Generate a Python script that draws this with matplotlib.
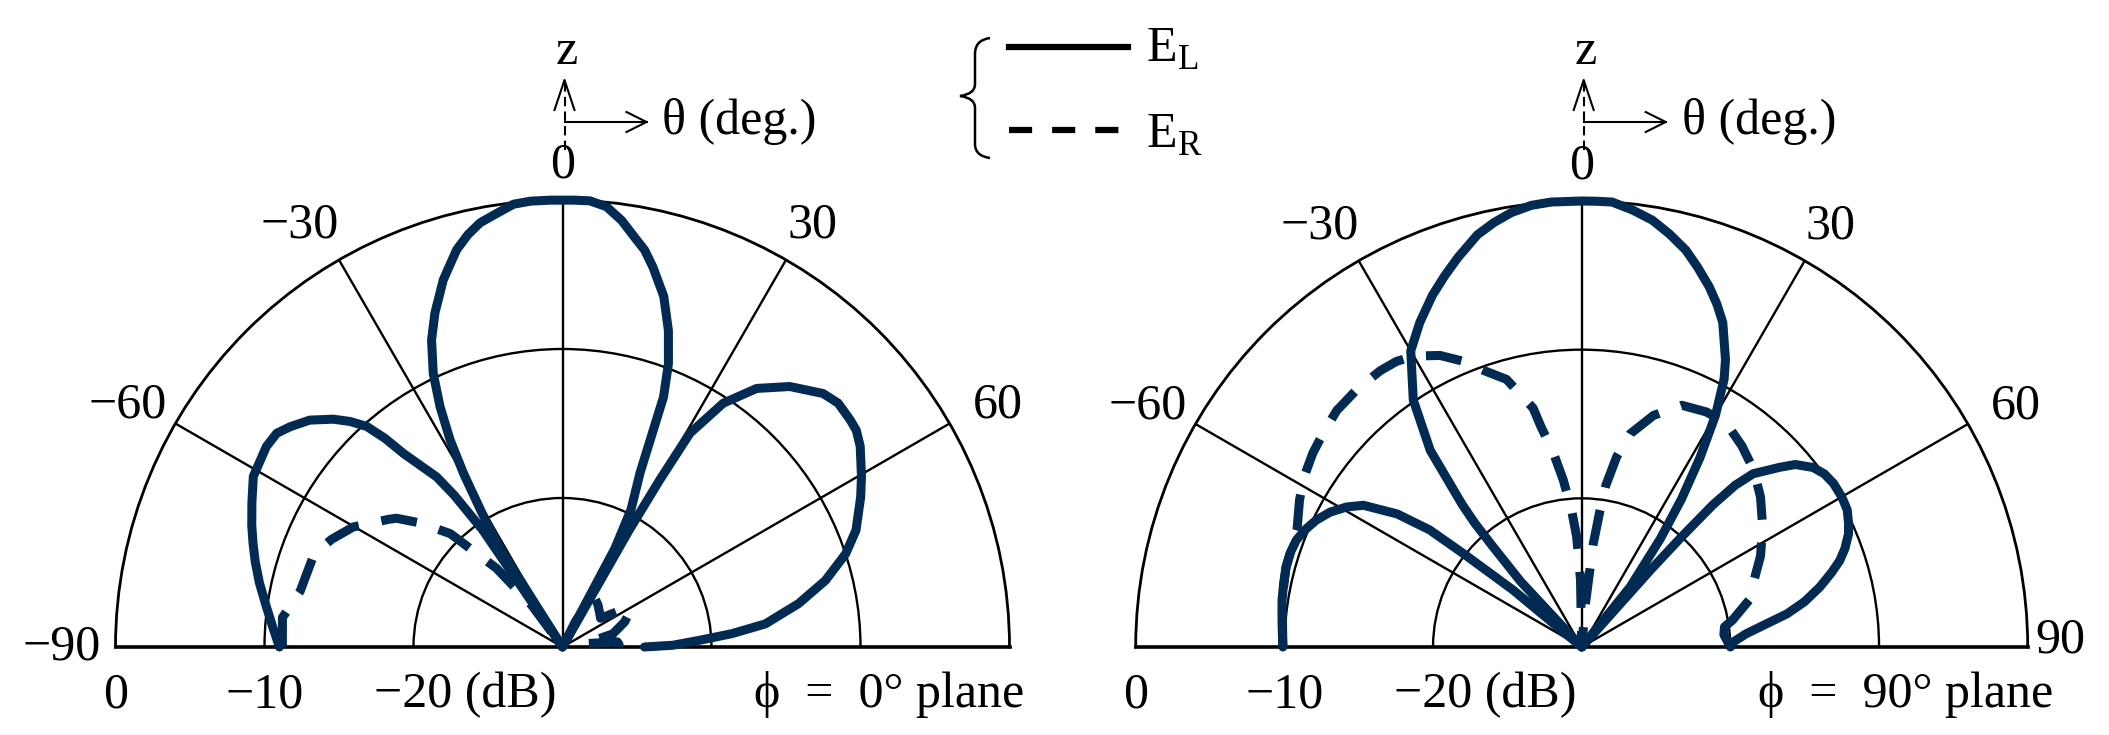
import numpy as np
import matplotlib
matplotlib.use('Agg')
from matplotlib import pyplot as plt
from matplotlib.lines import Line2D
from matplotlib.patches import PathPatch
from matplotlib.path import Path

plt.rcParams['font.family'] = ['Liberation Serif', 'DejaVu Serif']
plt.rcParams['mathtext.fontset'] = 'custom'
plt.rcParams['mathtext.rm'] = 'Liberation Serif'

W, H = 2109, 735
NAVY = '#022a52'
FS = 36
CY = 647  # baseline row (pixels from top)

# ---- theta (deg) and level (dB) ----
# phi = 0 plane, E_L (solid)
theta_L0 = [-90, -86, -82, -78, -74.5, -71.5, -68.6, -65, -61.1, -55.9,
            -53.2, -51, -48.1, -45.2, -43.3, -41.6, -40.4, -39.4, -36.5, -35.5,
            -34.3, -33.3, -32.3, -31, -29.7, -28.5, -27, -25.3, -23.1, -20.9,
            -18, -16.3, -14.9, -12.9, -11, -8.6, -6.3, -4.1, -1.6, 1.4,
            3.5, 5.7, 7.9, 9.8, 11.7, 13.4, 16.1, 18.5, 20.5, 22,
            22.7, 24, 26.5, 28, 29, 29.7, 30.2, 30.8, 33.4, 36.9,
            41.1, 45.8, 48.5, 51.7, 53.6, 56, 60.3, 63.3, 68.3, 71.8,
            75.8, 79.6, 83.5, 85.5, 87.2, 89.1, 90]
db_L0 = [-11, -10.5, -9.9, -9.2, -8.6, -8.1, -7.6, -7.0, -6.3, -6.0,
         -6.05, -6.5, -7.2, -8.3, -9.2, -10.2, -11.6, -13.2, -15.8, -17.5,
         -20.5, -30, -22.1, -19.5, -16.6, -14.2, -11.9, -9.7, -7.6, -6.0,
         -4.1, -3.2, -2.4, -1.6, -1.0, -0.56, -0.1, 0, 0, 0,
         0, -0.3, -1.1, -2.0, -2.8, -3.8, -5.5, -7.6, -9.7, -11.9,
         -14.2, -17.2, -19.7, -22.5, -30, -21, -17, -13.3, -10.4, -8.3,
         -6.8, -5.6, -5.3, -5.4, -5.5, -5.9, -6.9, -7.6, -8.8, -10,
         -11.8, -13.9, -16.3, -18.6, -20.8, -22.6, -24.5]

# phi = 0 plane, E_R (dashed)
theta_R0 = [-90, -84, -78, -69.5, -65, -60.2, -53.8, -52.2, -49, -44.7,
            -40, -36.4, -34, -20, 0, 20, 27, 31.8, 40, 47,
            53, 58, 61.5, 68, 75.3, 79, 81, 84.7, 87.5, 90]
db_R0 = [-11.2, -11.1, -12, -12.2, -12.9, -13.8, -15.5, -15.9, -17.3, -19.3,
         -23.1, -26.5, -30, -30, -30, -30, -28, -26, -26.3, -26.6,
         -26.8, -25.3, -24.8, -25.5, -26.5, -28, -28.6, -26.3, -26.2, -26.2]

# phi = 90 plane, E_L (solid)
theta_L90 = [-90, -86, -81.2, -78, -74.8, -72, -69.5, -67, -64.5, -61.8,
             -59.2, -57, -54.2, -52.4, -51.7, -50.3, -46.5, -43, -41.5, -40.8,
             -40, -37.6, -34.3, -30, -26.5, -23, -20.3, -17.6, -14.2, -11.7,
             -9.2, -6.5, -3.9, 0, 1.9, 3.9, 6.6, 9.4, 12, 14.7,
             17, 19.5, 21.5, 23.5, 26.6, 28, 30, 32, 34, 36,
             38.9, 40.5, 41.8, 42.2, 42.7, 43.5, 44.7, 47.8, 49.5, 52.2,
             54.5, 57, 60, 62.7, 65, 67, 69.5, 71.5, 73.5, 75.9,
             78.5, 80.8, 85.4, 88.1, 90, 85, 82, 79.9]
db_L90 = [-9.9, -9.8, -9.6, -9.5, -9.4, -9.4, -9.5, -9.8, -10.2, -10.8,
          -11.6, -12.5, -14.7, -17.1, -19.9, -24, -30, -24, -21, -19,
          -17.5, -13.3, -9.9, -7.0, -5.6, -4.3, -3.4, -2.5, -1.4, -0.85,
          -0.4, -0.1, 0, 0, 0, 0, -0.4, -0.9, -1.6, -2.4,
          -3.3, -4.3, -5.2, -6.2, -8.4, -9.6, -12, -15, -18, -21,
          -24.8, -30, -23, -20, -17, -15, -13.6, -12, -11.1, -10.3,
          -9.95, -9.8, -9.8, -9.9, -10.2, -10.5, -11.1, -11.7, -12.5, -13.5,
          -14.7, -16, -18.9, -19.8, -20.0, -20.4, -20.3, -19.7]

# phi = 90 plane, E_R (dashed)
theta_R90 = [-90, -81, -75, -67.7, -62.5, -58.5, -54.2, -50, -46, -41,
             -36.1, -33, -30, -25.9, -22.5, -19.4, -15.7, -11.5, -10.5, -8.3,
             -6.3, -4.2, -2.6, -1, 2, 5, 6.4, 7.6, 8.5, 10.4,
             12.8, 17.2, 22.5, 28, 33, 38.5, 44.2, 50, 56.5, 63,
             69.7, 74, 79.9]
db_R90 = [-9.9, -9.6, -9.4, -9.3, -8.6, -8.1, -7.7, -7.4, -7.1, -7.0,
          -7.0, -7.1, -7.4, -8.2, -9.2, -10.3, -11.3, -13.6, -14.9, -16.8,
          -18.7, -20.8, -22.6, -25.5, -30, -27, -23, -20.8, -19, -17,
          -15.3, -13.7, -12.4, -12.1, -12.1, -12.7, -13.4, -14.3, -15.4, -16.5,
          -17.7, -18.2, -19.7]

grid_theta = [-60, -30, 0, 30, 60]
grid_db = [-20, -10]
bottom_labels = ['0', '\u221210']
bottom_db = [0, -10]
plane_labels = ['\u03d5\u2002=\u20020\u00b0 plane', '\u03d5\u2002=\u200290\u00b0 plane']

# angle labels: text, theta (deg), radius in dB beyond the rim
left_angle_labels = [('\u221290', -90, 3.6), ('\u221260', -61, 3.4),
                     ('\u221230', -31.9, 3.36), ('0', 0, 2.35),
                     ('30', 30.6, 2.9), ('60', 61, 3.4)]
right_angle_labels = [('\u221260', -61, 3.4), ('\u221230', -31.9, 3.36),
                      ('0', 0, 2.35), ('30', 30.6, 2.9), ('60', 61, 3.4),
                      ('90', 89.2, 2.2)]

fig = plt.figure(figsize=(W / 100, H / 100), dpi=100)
fig.patch.set_facecolor('white')


def fx(x, y):
    return x / W, 1 - y / H


def add_line(xs, ys, **kw):
    pts = [fx(x, y) for x, y in zip(xs, ys)]
    fig.add_artist(Line2D([p[0] for p in pts], [p[1] for p in pts],
                          transform=fig.transFigure, **kw))


def make_panel(cx, R, th_l, db_l, th_r, db_r, angle_labels, plane, plane_dx):
    y0 = (H - CY) - 0.5 * R
    ax = fig.add_axes([(cx - R) / W, y0 / H, 2 * R / W, 2 * R / H],
                      projection='polar')
    ax.set_theta_zero_location('N')
    ax.set_theta_direction(-1)
    ax.set_thetamin(-90)
    ax.set_thetamax(90)

    ax.plot(np.deg2rad(th_l), db_l, color=NAVY, lw=6.5,
            solid_capstyle='round', solid_joinstyle='round', clip_on=False,
            zorder=4)
    ax.plot(np.deg2rad(th_r), db_r, color=NAVY, lw=6.5, ls=(0, (4.0, 2.55)),
            dash_capstyle='butt', dash_joinstyle='round', clip_on=False,
            zorder=4)

    ax.set_rlim(-30, 0)
    ax.set_thetagrids(grid_theta, labels=[''] * len(grid_theta))
    ax.set_rgrids(grid_db, labels=[''] * len(grid_db))
    ax.grid(True, color='black', lw=1.7)
    ax.tick_params(length=0)
    ax.spines['polar'].set_linewidth(2.0)
    ax.spines['start'].set_linewidth(2.6)
    ax.spines['end'].set_linewidth(2.6)
    ax.spines['inner'].set_visible(False)

    for s, t, r in angle_labels:
        ax.text(np.deg2rad(t), r, s, ha='center', va='center',
                fontsize=FS, clip_on=False)

    for s, r in zip(bottom_labels, bottom_db):
        ax.annotate(s, xy=(np.deg2rad(-90), r), xytext=(0, -60),
                    textcoords='offset pixels', ha='center', va='baseline',
                    fontsize=FS, annotation_clip=False)
    ax.annotate('\u221220 (dB)', xy=(np.deg2rad(-90), -20), xytext=(-39, -60),
                textcoords='offset pixels', ha='left', va='baseline',
                fontsize=FS, annotation_clip=False)
    ax.annotate(plane, xy=(np.deg2rad(90), 0), xytext=(plane_dx, -60),
                textcoords='offset pixels', ha='right', va='baseline',
                fontsize=FS, annotation_clip=False)

    # z / theta direction sketch above the panel
    x = cx + 2
    add_line([x, x], [150, 84], color='black', lw=1.5, ls=(0, (4.5, 2.5)))
    add_line([x - 10, x, x + 10], [110, 80, 110], color='black', lw=1.5)
    add_line([x, x + 82], [122, 122], color='black', lw=1.5)
    add_line([x + 62, x + 82, x + 62], [112, 122, 132], color='black', lw=1.5)
    fig.text(*fx(cx + 4, 52), 'z', ha='center', va='center', fontsize=FS)
    fig.text(*fx(cx + 100, 134), '\u03b8 (deg.)', ha='left', va='baseline',
             fontsize=FS)
    return ax


make_panel(562.5, 447, theta_L0, db_L0, theta_R0, db_R0,
           left_angle_labels, plane_labels[0], 15)
make_panel(1581.7, 446, theta_L90, db_L90, theta_R90, db_R90,
           right_angle_labels, plane_labels[1], 26)

# legend with brace
brace = [(990, 38), (975, 40), (975, 54), (975, 84), (975, 94), (960, 96),
         (975, 98), (975, 108), (975, 144), (975, 156), (990, 158)]
codes = [Path.MOVETO, Path.CURVE3, Path.CURVE3, Path.LINETO, Path.CURVE3,
         Path.CURVE3, Path.CURVE3, Path.CURVE3, Path.LINETO, Path.CURVE3,
         Path.CURVE3]
fig.add_artist(PathPatch(Path([fx(a, b) for a, b in brace], codes),
                         transform=fig.transFigure, fill=False,
                         edgecolor='black', lw=1.8))
add_line([1009, 1128], [47, 47], color='black', lw=4.5)
add_line([1009, 1119], [130, 130], color='black', lw=4.5,
         ls=(0, (3.7, 3.2)), dash_capstyle='butt')
fig.text(*fx(1146, 62), r'E$_\mathregular{L}$', ha='left', va='baseline',
         fontsize=FS)
fig.text(*fx(1146, 148), r'E$_\mathregular{R}$', ha='left', va='baseline',
         fontsize=FS)

fig.savefig('out.png', dpi=100, facecolor='white')
